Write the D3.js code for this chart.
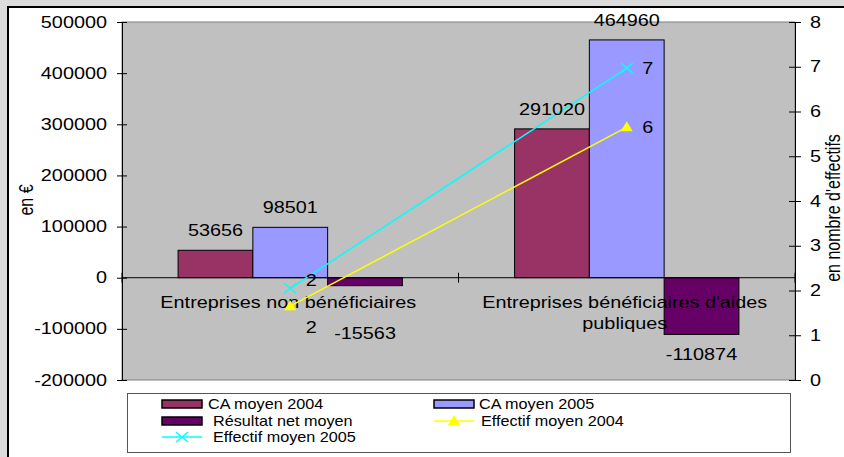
<!DOCTYPE html>
<html><head><meta charset="utf-8">
<script src="https://cdn.jsdelivr.net/npm/d3@7"></script>
<style>
body{margin:0;background:#dcdcdc;overflow:hidden}
svg{display:block}
text{font-family:"Liberation Sans",Arial,sans-serif;fill:#000}
</style>
</head><body>
<svg id="chart" width="844" height="457"></svg>
<script>
// ---- data ----
const categories = ["Entreprises non bénéficiaires", "Entreprises bénéficiaires d'aides publiques"];
const categoryLines = [["Entreprises non bénéficiaires"], ["Entreprises bénéficiaires d'aides", "publiques"]];
const barSeries = ["CA moyen 2004", "CA moyen 2005", "Résultat net moyen"];
const caMoyen2004 = [53656, 291020];
const caMoyen2005 = [98501, 464960];
const resultatNetMoyen = [-15563, -110874];
const lineSeries = ["Effectif moyen 2004", "Effectif moyen 2005"];
const effectifMoyen2004 = [1.65, 5.65];
const effectifMoyen2005 = [2.05, 6.97];
const leftTicks = [-200000, -100000, 0, 100000, 200000, 300000, 400000, 500000];
const rightTicks = [0, 1, 2, 3, 4, 5, 6, 7, 8];
const leftTitle = "en €";
const rightTitle = "en nombre d'effectifs";

// ---- styles ----
const barColors = {"CA moyen 2004": "#993366", "CA moyen 2005": "#9999FF", "Résultat net moyen": "#660066"};
const lineColors = {"Effectif moyen 2004": "#FFFF00", "Effectif moyen 2005": "#00FFFF"};
const barValues = {"CA moyen 2004": caMoyen2004, "CA moyen 2005": caMoyen2005, "Résultat net moyen": resultatNetMoyen};
const lineValues = {"Effectif moyen 2004": effectifMoyen2004, "Effectif moyen 2005": effectifMoyen2005};

const svg = d3.select("#chart");
const K = 1.24; // horizontal text stretch

// frame
svg.append("rect").attr("x", 0).attr("y", 0).attr("width", 844).attr("height", 457).attr("fill", "#dcdcdc");
svg.append("rect").attr("x", 8).attr("y", 7).attr("width", 860).attr("height", 470)
  .attr("fill", "#fff").attr("stroke", "#000").attr("stroke-width", 2);

const plot = {l: 122, r: 795, t: 22, b: 380};
const x = d3.scaleBand().domain(categories).range([plot.l, plot.r]).paddingInner(0).paddingOuter(0);
const x1 = d3.scaleBand().domain(barSeries).range([0, x.bandwidth()]).paddingInner(0).paddingOuter(0.75);
const yL = d3.scaleLinear().domain([-200000, 500000]).range([plot.b, plot.t]);
const yR = d3.scaleLinear().domain([0, 8]).range([plot.b, plot.t]);

function txt(g, px, py, s, size, anchor, k, rot) {
  return g.append("text")
    .attr("transform", `translate(${px},${py}) scale(${k},1)` + (rot ? ` rotate(${rot})` : ""))
    .attr("text-anchor", anchor).style("font-size", size + "px").text(s);
}
function stretchTicks(sel, k) {
  sel.selectAll(".tick text").each(function () {
    const t = d3.select(this); const tx = +t.attr("x") || 0;
    t.attr("transform", `translate(${tx},0) scale(${k},1) translate(${-tx},0)`);
  });
}

// plot area
svg.append("rect").attr("x", plot.l).attr("y", plot.t).attr("width", plot.r - plot.l).attr("height", plot.b - plot.t)
  .attr("fill", "#c0c0c0").attr("stroke", "#808080").attr("stroke-width", 1);

// bars
const bars = svg.append("g");
categories.forEach((c, i) => {
  barSeries.forEach(s => {
    const v = barValues[s][i];
    bars.append("rect")
      .attr("x", x(c) + x1(s)).attr("width", x1.bandwidth())
      .attr("y", yL(Math.max(0, v))).attr("height", Math.abs(yL(v) - yL(0)))
      .attr("fill", barColors[s]).attr("stroke", "#000").attr("stroke-width", 1);
  });
});

// zero line & category ticks
const y0 = yL(0);
svg.append("line").attr("x1", plot.l).attr("x2", plot.r).attr("y1", y0).attr("y2", y0).attr("stroke", "#000");
const bounds = [plot.l, ...categories.map(c => x(c) + x.bandwidth())];
bounds.forEach(bx => svg.append("line").attr("x1", bx).attr("x2", bx).attr("y1", y0 - 5).attr("y2", y0 + 5).attr("stroke", "#000"));

// axes
const gl = svg.append("g").attr("transform", `translate(${plot.l},0)`)
  .call(d3.axisLeft(yL).tickValues(leftTicks).tickSize(5).tickSizeOuter(0).tickPadding(10).tickFormat(d => String(d)));
gl.selectAll(".tick line").attr("x1", 5);
gl.selectAll("text").style("font-size", "16px").style("font-family", '"Liberation Sans",Arial,sans-serif');
gl.select(".domain").attr("stroke", "#000");
stretchTicks(gl, K);

const gr = svg.append("g").attr("transform", `translate(${plot.r},0)`)
  .call(d3.axisRight(yR).tickValues(rightTicks).tickSize(6).tickSizeOuter(0).tickPadding(9).tickFormat(d => String(d)));
gr.selectAll(".tick line").attr("x1", -6);
gr.selectAll("text").style("font-size", "16px").style("font-family", '"Liberation Sans",Arial,sans-serif');
gr.select(".domain").attr("stroke", "#000");
stretchTicks(gr, K);

// axis titles
txt(svg, 33, 200, leftTitle, 16, "middle", K, -90);
txt(svg, 840, 208, rightTitle, 16, "middle", K, -90);

// category labels
const catLast = [];
categories.forEach((c, i) => {
  const cx = x(c) + x.bandwidth() / 2 - 2;
  categoryLines[i].forEach((ln, j) => txt(svg, cx, y0 + 30 + j * 21, ln, 16, "middle", K));
  catLast.push(y0 + 30 + (categoryLines[i].length - 1) * 21);
});

// lines
const lg = svg.append("g");
lineSeries.forEach(s => {
  const pts = categories.map((c, i) => [x(c) + x.bandwidth() / 2, yR(lineValues[s][i])]);
  lg.append("path").attr("d", d3.line()(pts)).attr("fill", "none")
    .attr("stroke", lineColors[s]).attr("stroke-width", 1.5);
});

// bar data labels
categories.forEach((c, i) => {
  barSeries.forEach(s => {
    const v = barValues[s][i];
    const bx = x(c) + x1(s) + x1.bandwidth() / 2;
    const by = v >= 0 ? yL(v) - 14 : Math.max(yL(v) + 24, catLast[i] + 31);
    txt(svg, bx, by, String(v), 16, "middle", K);
  });
});

// line data labels & markers
const nudge = {"Effectif moyen 2004": [21, 0], "Effectif moyen 2005": [-8, 0]};
function marker(g, s, px, py, color) {
  if (s === "Effectif moyen 2004") {
    g.append("path").attr("d", `M${px},${py - 6}L${px + 6},${py + 4}L${px - 6},${py + 4}Z`).attr("fill", color);
  } else {
    g.append("path").attr("d", `M${px - 6},${py - 5}L${px + 6},${py + 5}M${px - 6},${py + 5}L${px + 6},${py - 5}`)
      .attr("stroke", color).attr("stroke-width", 1.5).attr("fill", "none");
  }
}
lineSeries.forEach(s => {
  categories.forEach((c, i) => {
    const px = x(c) + x.bandwidth() / 2, py = yR(lineValues[s][i]);
    marker(svg, s, px, py, lineColors[s]);
    txt(svg, px + 21, py + 6 + nudge[s][i], String(Math.round(lineValues[s][i])), 16, "middle", K);
  });
});

// legend
const leg = svg.append("g");
leg.append("rect").attr("x", 127.5).attr("y", 393.5).attr("width", 663).attr("height", 59)
  .attr("fill", "#fff").attr("stroke", "#555").attr("stroke-width", 1);
const legendItems = [
  {name: "CA moyen 2004", type: "bar", sx: 162, tx: 208, cy: 404},
  {name: "CA moyen 2005", type: "bar", sx: 434, tx: 479, cy: 404},
  {name: "Résultat net moyen", type: "bar", sx: 162, tx: 213, cy: 421},
  {name: "Effectif moyen 2004", type: "line", sx: 434, tx: 481, cy: 421},
  {name: "Effectif moyen 2005", type: "line", sx: 162, tx: 213, cy: 437}
];
legendItems.forEach(it => {
  if (it.type === "bar") {
    leg.append("rect").attr("x", it.sx).attr("y", it.cy - 4).attr("width", 40).attr("height", 8)
      .attr("fill", barColors[it.name]).attr("stroke", "#000").attr("stroke-width", 1.5);
  } else {
    leg.append("line").attr("x1", it.sx).attr("x2", it.sx + 40).attr("y1", it.cy).attr("y2", it.cy)
      .attr("stroke", lineColors[it.name]).attr("stroke-width", 1.5);
    marker(leg, it.name, it.sx + 20, it.cy, lineColors[it.name]);
  }
  txt(leg, it.tx, it.cy + 5, it.name, 15, "start", 1.08);
});
</script>
</body></html>
